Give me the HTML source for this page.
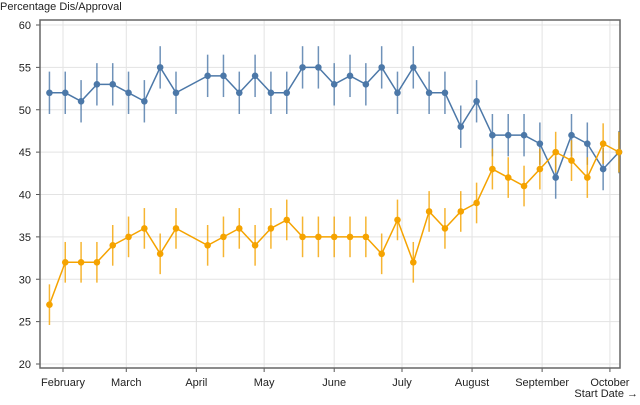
<!DOCTYPE html>
<html><head><meta charset="utf-8"><style>
html,body{margin:0;padding:0;background:#fff;}
svg text{font-family:"Liberation Sans",sans-serif;font-size:11px;fill:#222;}
</style></head><body>
<svg id="chart" width="640" height="400" xmlns="http://www.w3.org/2000/svg"></svg>
<script>
const dates = ["01-26","02-02","02-09","02-16","02-23","03-02","03-09","03-16","03-23","04-06","04-13","04-20","04-27","05-04","05-11","05-18","05-25","06-01","06-08","06-15","06-22","06-29","07-06","07-13","07-20","07-27","08-03","08-10","08-17","08-24","08-31","09-07","09-14","09-21","09-28","10-05"];
const disapproval = [52,52,51,53,53,52,51,55,52,54,54,52,54,52,52,55,55,53,54,53,55,52,55,52,52,48,51,47,47,47,46,42,47,46,43,45];
const approval = [27,32,32,32,34,35,36,33,36,34,35,36,34,36,37,35,35,35,35,35,33,37,32,38,36,38,39,43,42,41,43,45,44,42,46,45];
const errDis = 2.5;
const errApp = 2.4;
const yTicks = [20,25,30,35,40,45,50,55,60];
const monthTicks = ["02-01","03-01","04-01","05-01","06-01","07-01","08-01","09-01","10-01"];
const monthLabels = ["February","March","April","May","June","July","August","September","October"];

const NS="http://www.w3.org/2000/svg";
const svg=document.getElementById('chart');
const L=40,R=620,T=20,B=368;
function dayOf(md){const [m,d]=md.split('-').map(Number);const t=Date.UTC(2021,m-1,d);return (t-Date.UTC(2021,1,1))/86400000;}
function x(md){return 63+dayOf(md)*2.26;}
function y(v){return 364-(v-20)*8.475;}
function el(tag,attrs,parent){const e=document.createElementNS(NS,tag);for(const k in attrs)e.setAttribute(k,attrs[k]);(parent||svg).appendChild(e);return e;}

const grid=el('g',{});


yTicks.forEach((t)=>{
  el('line',{x1:L,x2:R,y1:y(t),y2:y(t),stroke:'#e3e3e3','stroke-width':1},grid);
  el('line',{x1:L-4,x2:L,y1:y(t),y2:y(t),stroke:'#555','stroke-width':1},grid);
  const tx=el('text',{x:L-9,y:y(t)+4,'text-anchor':'end'});
  tx.textContent=t;
  
  
});
monthTicks.forEach((m,i)=>{
  el('line',{x1:x(m),x2:x(m),y1:T,y2:B,stroke:'#e3e3e3','stroke-width':1},grid);
  el('line',{x1:x(m),x2:x(m),y1:B,y2:B+4,stroke:'#555','stroke-width':1},grid);
  const tx=el('text',{x:x(m),y:386,'text-anchor':'middle'});
  tx.textContent=monthLabels[i];
  
  
});
const frame=el('rect',{x:L,y:T,width:R-L,height:B-T,fill:'none',stroke:'#666','stroke-width':1.5});



function series(vals,err,color,name){
  const g=el('g',{});
  
  
  vals.forEach((v,i)=>{
    const eb=el('line',{x1:x(dates[i]),x2:x(dates[i]),y1:y(v-err),y2:y(v+err),stroke:color,'stroke-width':1.5,opacity:0.8},g);
    
    
  });
  const p=el('polyline',{points:vals.map((v,i)=>x(dates[i])+','+y(v)).join(' '),fill:'none',stroke:color,'stroke-width':1.5},g);
  
  
  vals.forEach((v,i)=>{
    const c=el('circle',{cx:x(dates[i]),cy:y(v),r:3.3,fill:color},g);
    
    
  });
}
series(disapproval,errDis,'#4c78a8','disapproval-series');
series(approval,errApp,'#f5a300','approval-series');

const yt=el('text',{x:0,y:10});
yt.textContent='Percentage Dis/Approval';


const xt=el('text',{x:638,y:397,'text-anchor':'end'});
xt.textContent='Start Date →';


</script>
</body></html>
